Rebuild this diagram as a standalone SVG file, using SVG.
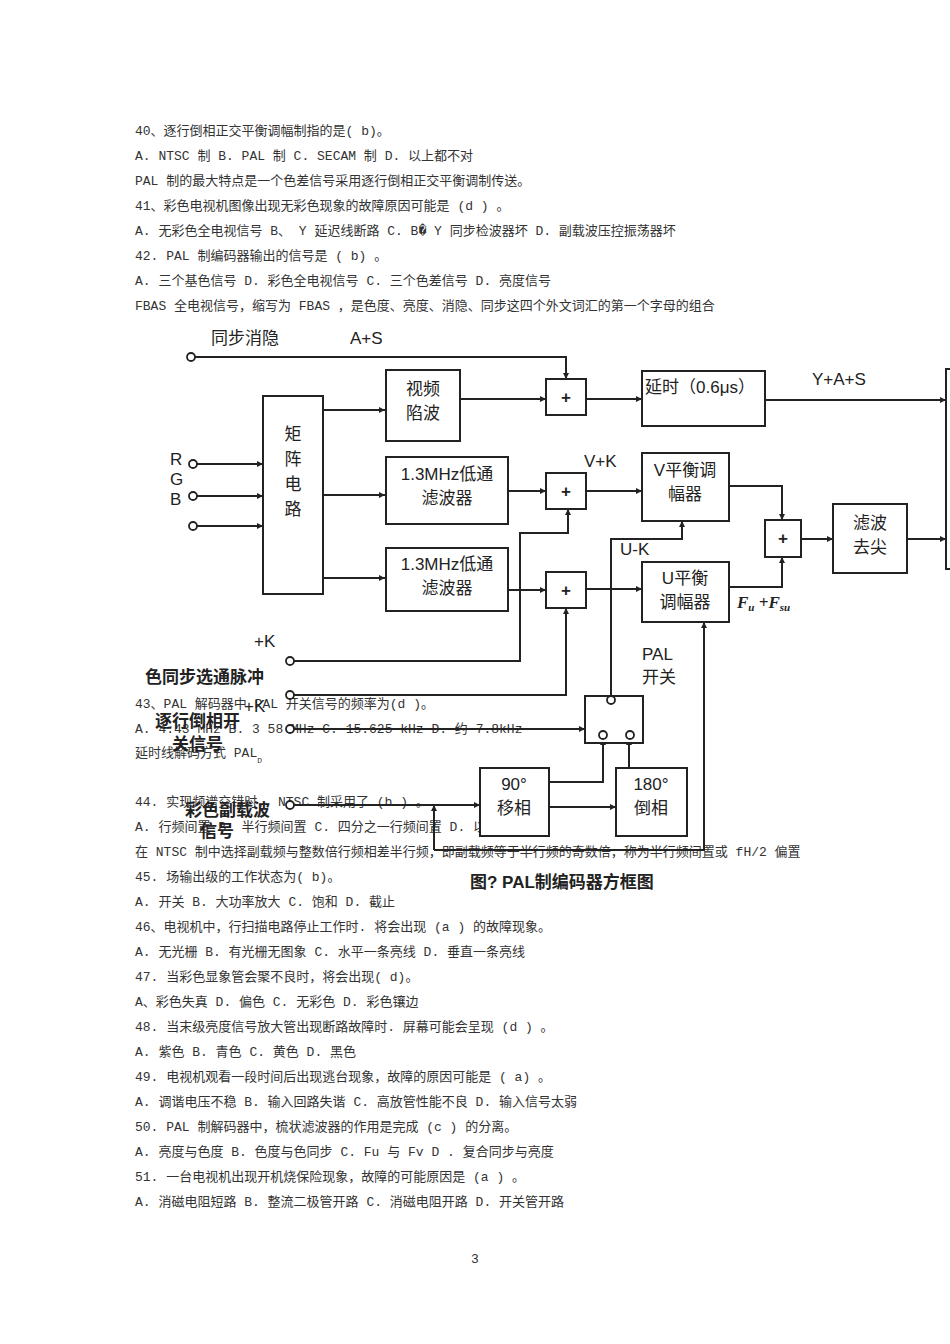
<svg xmlns="http://www.w3.org/2000/svg" width="950" height="1344" viewBox="0 0 950 1344">
<style>
.t{font-family:"Liberation Mono","Noto Sans CJK SC",monospace;font-size:13px;fill:#333}
.d{font-family:"Liberation Sans","Noto Sans CJK SC",sans-serif;font-size:17px;fill:#222}
.b{font-family:"Liberation Sans","Noto Sans CJK SC",sans-serif;font-size:17px;font-weight:bold;fill:#222}
.bx{fill:#fff;stroke:#222;stroke-width:2}
.ln{fill:none;stroke:#222;stroke-width:2}
.ar{fill:none;stroke:#222;stroke-width:2;marker-end:url(#a)}
.c{fill:#fff;stroke:#222;stroke-width:1.8}
</style>
<defs><marker id="a" viewBox="0 0 10 10" refX="10" refY="5" markerWidth="6" markerHeight="6" orient="auto" markerUnits="userSpaceOnUse"><path d="M0,0L10,5L0,10z" fill="#222"/></marker></defs>
<rect width="950" height="1344" fill="#fff"/>
<g id="text">
<text class="t" x="135" y="135">40、逐行倒相正交平衡调幅制指的是( b)。</text>
<text class="t" x="135" y="160">A. NTSC 制 B. PAL 制 C. SECAM 制 D. 以上都不对</text>
<text class="t" x="135" y="185">PAL 制的最大特点是一个色差信号采用逐行倒相正交平衡调制传送。</text>
<text class="t" x="135" y="210">41、彩色电视机图像出现无彩色现象的故障原因可能是    (d ) 。</text>
<text class="t" x="135" y="235">A. 无彩色全电视信号  B、 Y 延迟线断路  C. B� Y 同步检波器坏  D. 副载波压控振荡器坏</text>
<text class="t" x="135" y="260">42. PAL 制编码器输出的信号是  ( b) 。</text>
<text class="t" x="135" y="285">A. 三个基色信号  D. 彩色全电视信号 C. 三个色差信号  D. 亮度信号</text>
<text class="t" x="135" y="310">FBAS  全电视信号，缩写为  FBAS ，是色度、亮度、消隐、同步这四个外文词汇的第一个字母的组合</text>
<text class="t" x="135" y="708">43、PAL  解码器中 PAL  开关信号的频率为(d )。</text>
<text class="t" x="135" y="733">A. 4.43 MHz B. 3 58 MHz C. 15.625 kHz D. 约 7.8kHz</text>
<text class="t" x="135" y="757">延时线解码方式  PAL<tspan font-size="8" dy="6">D</tspan></text>
<text class="t" x="135" y="806">44. 实现频谱交错时， NTSC  制采用了 (b ) 。</text>
<text class="t" x="135" y="831">A. 行频间置 B. 半行频间置  C. 四分之一行频间置  D. 以上都不对</text>
<text class="t" x="135" y="856" font-size="12">在 NTSC 制中选择副载频与整数倍行频相差半行频，即副载频等于半行频的奇数倍，称为半行频间置或 fH/2 偏置</text>
<text class="t" x="135" y="881">45. 场输出级的工作状态为( b)。</text>
<text class="t" x="135" y="906">A. 开关 B. 大功率放大  C. 饱和 D. 截止</text>
<text class="t" x="135" y="931">46、电视机中，行扫描电路停止工作时. 将会出现    (a ) 的故障现象。</text>
<text class="t" x="135" y="956">A. 无光栅  B. 有光栅无图象  C. 水平一条亮线 D. 垂直一条亮线</text>
<text class="t" x="135" y="981">47. 当彩色显象管会聚不良时，将会出现( d)。</text>
<text class="t" x="135" y="1006">A、彩色失真 D. 偏色  C. 无彩色 D. 彩色镶边</text>
<text class="t" x="135" y="1031">48. 当末级亮度信号放大管出现断路故障时. 屏幕可能会呈现     (d ) 。</text>
<text class="t" x="135" y="1056">A. 紫色 B. 青色  C. 黄色  D. 黑色</text>
<text class="t" x="135" y="1081">49. 电视机观看一段时间后出现逃台现象，故障的原因可能是     ( a) 。</text>
<text class="t" x="135" y="1106">A. 调谐电压不稳  B. 输入回路失谐 C. 高放管性能不良  D. 输入信号太弱</text>
<text class="t" x="135" y="1131">50. PAL 制解码器中，梳状滤波器的作用是完成   (c ) 的分离。</text>
<text class="t" x="135" y="1156">A. 亮度与色度  B. 色度与色同步 C. Fu 与 Fv D . 复合同步与亮度</text>
<text class="t" x="135" y="1181">51. 一台电视机出现开机烧保险现象，故障的可能原因是     (a ) 。</text>
<text class="t" x="135" y="1206">A. 消磁电阻短路  B. 整流二极管开路 C. 消磁电阻开路  D. 开关管开路</text>
<text class="t" x="471" y="1263">3</text>
</g>
<g id="connectors">
<path class="ar" d="M195,357H566V379"/>
<path class="ar" d="M197,464H263"/><path class="ar" d="M197,496H263"/><path class="ar" d="M197,526H263"/>
<path class="ar" d="M323,410H385"/><path class="ar" d="M323,495H385"/><path class="ar" d="M323,578H385"/>
<path class="ar" d="M460,399H546"/><path class="ar" d="M586,399H642"/><path class="ar" d="M765,400H946"/>
<path class="ar" d="M508,491H546"/><path class="ar" d="M586,491H642"/>
<path class="ar" d="M508,590H546"/><path class="ar" d="M586,589H642"/>
<path class="ar" d="M294,661H520V533H568V509"/>
<path class="ar" d="M294,695H566V608"/>
<path class="ar" d="M611,696V539H682V521"/>
<path class="ar" d="M729,486H782V520"/><path class="ar" d="M729,587H782V557"/>
<path class="ar" d="M801,539H833"/><path class="ar" d="M907,539H946"/>
<path class="ar" d="M294,729H585"/>
<path class="ar" d="M294,805H480"/>
<path class="ar" d="M434,850V805"/>
<path class="ar" d="M434,850H704V622"/>
<path class="ar" d="M549,782H603V739"/>
<path class="ar" d="M549,807H616"/>
<path class="ar" d="M629,768V739"/>
<path class="ar" d="M609,704L600,730"/>
</g>
<g id="n-matrix"><rect class="bx" x="263" y="396" width="60" height="198"/><text class="d" x="293" y="440" text-anchor="middle">矩</text><text class="d" x="293" y="465" text-anchor="middle">阵</text><text class="d" x="293" y="490" text-anchor="middle">电</text><text class="d" x="293" y="515" text-anchor="middle">路</text></g>
<g id="n-video"><rect class="bx" x="386" y="370" width="74" height="71"/><text class="d" x="423" y="395" text-anchor="middle">视频</text><text class="d" x="423" y="419" text-anchor="middle">陷波</text></g>
<g id="n-lpf1"><rect class="bx" x="386" y="457" width="122" height="67"/><text class="d" x="447" y="480" text-anchor="middle">1.3MHz低通</text><text class="d" x="447" y="504" text-anchor="middle">滤波器</text></g>
<g id="n-lpf2"><rect class="bx" x="386" y="548" width="122" height="63"/><text class="d" x="447" y="570" text-anchor="middle">1.3MHz低通</text><text class="d" x="447" y="594" text-anchor="middle">滤波器</text></g>
<g id="n-sum1"><rect class="bx" x="546" y="379" width="40" height="36"/><text class="b" x="566" y="403" text-anchor="middle">+</text></g>
<g id="n-sum2"><rect class="bx" x="546" y="473" width="40" height="36"/><text class="b" x="566" y="497" text-anchor="middle">+</text></g>
<g id="n-sum3"><rect class="bx" x="546" y="572" width="40" height="36"/><text class="b" x="566" y="596" text-anchor="middle">+</text></g>
<g id="n-delay"><rect class="bx" x="642" y="371" width="123" height="55"/><text class="d" x="645" y="393">延时（0.6μs）</text></g>
<g id="n-vmod"><rect class="bx" x="642" y="453" width="87" height="68"/><text class="d" x="685" y="476" text-anchor="middle">V平衡调</text><text class="d" x="685" y="500" text-anchor="middle">幅器</text></g>
<g id="n-umod"><rect class="bx" x="642" y="562" width="87" height="60"/><text class="d" x="685" y="584" text-anchor="middle">U平衡</text><text class="d" x="685" y="608" text-anchor="middle">调幅器</text></g>
<g id="n-sum4"><rect class="bx" x="765" y="520" width="36" height="37"/><text class="b" x="783" y="544" text-anchor="middle">+</text></g>
<g id="n-filter"><rect class="bx" x="833" y="504" width="74" height="69"/><text class="d" x="870" y="529" text-anchor="middle">滤波</text><text class="d" x="870" y="553" text-anchor="middle">去尖</text></g>
<g id="n-out"><rect class="bx" x="946" y="369" width="10" height="200"/></g>
<g id="n-pal"><rect class="bx" x="585" y="696" width="58" height="47"/><circle class="c" cx="611" cy="700" r="4"/><circle class="c" cx="603" cy="735" r="4"/><circle class="c" cx="630" cy="735" r="4"/></g>
<g id="n-90"><rect class="bx" x="480" y="768" width="69" height="68"/><text class="d" x="514" y="790" text-anchor="middle">90°</text><text class="d" x="514" y="814" text-anchor="middle">移相</text></g>
<g id="n-180"><rect class="bx" x="616" y="768" width="71" height="68"/><text class="d" x="651" y="790" text-anchor="middle">180°</text><text class="d" x="651" y="814" text-anchor="middle">倒相</text></g>
<g id="inputs">
<circle class="c" cx="191" cy="357" r="4"/><circle class="c" cx="193" cy="464" r="4"/><circle class="c" cx="193" cy="496" r="4"/><circle class="c" cx="193" cy="526" r="4"/>
<circle class="c" cx="290" cy="661" r="4"/><circle class="c" cx="290" cy="695" r="4"/><circle class="c" cx="290" cy="729" r="4"/><circle class="c" cx="290" cy="805" r="4"/>
</g>
<g id="labels">
<text class="d" x="211" y="344">同步消隐</text><text class="d" x="350" y="344">A+S</text>
<text class="d" x="170" y="465">R</text><text class="d" x="170" y="485">G</text><text class="d" x="170" y="505">B</text>
<text class="d" x="812" y="385">Y+A+S</text><text class="d" x="584" y="467">V+K</text><text class="d" x="620" y="555">U-K</text>
<text x="737" y="608" font-family="Liberation Serif,serif" font-size="17" font-weight="bold" font-style="italic" fill="#222">F<tspan font-size="11" dy="3">u</tspan><tspan dy="-3"> +F</tspan><tspan font-size="11" dy="3">su</tspan></text>
<text class="d" x="254" y="647">+K</text><text class="d" x="244" y="712">+K</text>
<text class="b" x="145" y="683">色同步选通脉冲</text>
<text class="b" x="155" y="727">逐行倒相开</text><text class="b" x="172" y="750">关信号</text>
<text class="b" x="185" y="816">彩色副载波</text><text class="b" x="200" y="837">信号</text>
<text class="d" x="642" y="660">PAL</text><text class="d" x="642" y="683">开关</text>
<text class="b" x="470" y="888">图? PAL制编码器方框图</text>
</g>
</svg>
